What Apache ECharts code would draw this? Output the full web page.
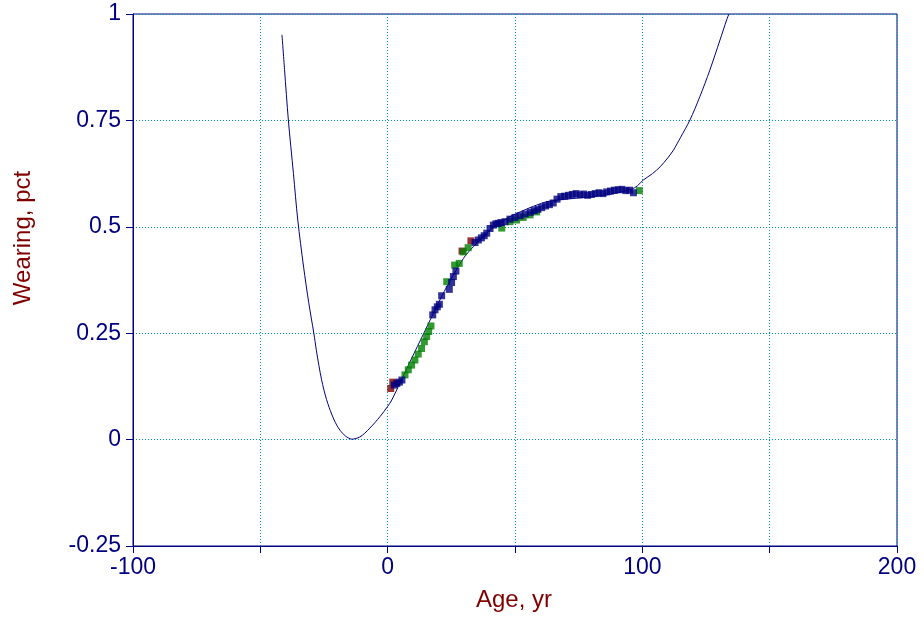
<!DOCTYPE html>
<html>
<head>
<meta charset="utf-8">
<script src="https://cdn.jsdelivr.net/npm/echarts@6/dist/echarts.min.js"></script>
<style>html,body{margin:0;padding:0;background:#fff}#c{width:924px;height:617px}</style>
</head>
<body>
<div id="c"></div>
<script>
// Fitted curve
var curvePoints = [[-41.5,0.951],[-40.5,0.87],[-39,0.751],[-37,0.625],[-35.3,0.516],[-33,0.405],[-31,0.322],[-29,0.25],[-28,0.21],[-27,0.174],[-26,0.142],[-25,0.116],[-24,0.094],[-23,0.076],[-22,0.06],[-21,0.046],[-20,0.034],[-18.7,0.022],[-16.5,0.008],[-14,0.001],[-11,0.006],[-9,0.015],[-7,0.027],[-5,0.040],[-3,0.054],[0,0.078],[1.6,0.093],[5,0.135],[9.1,0.187],[14.2,0.25],[20.5,0.328],[24,0.368],[27.7,0.406],[30.5,0.432],[33.6,0.453],[37,0.473],[40.2,0.492],[44,0.509],[48,0.524],[52,0.535],[55.9,0.545],[58.5,0.551],[62.4,0.559],[67,0.563],[72,0.566],[77,0.569],[82,0.572],[87,0.576],[92,0.582],[96,0.589],[98,0.596],[100.4,0.61],[104,0.625],[107,0.641],[110,0.662],[112.2,0.68],[115,0.71],[118.7,0.751],[122.6,0.806],[126.5,0.868],[130.5,0.939],[133.1,0.986],[134,1.0]];
// Observed points
var redPoints = [[1.2,0.12],[2.0,0.135],[29.2,0.443],[32.7,0.467]];
var greenPoints = [[6.8,0.152],[8.1,0.164],[9.4,0.175],[10.7,0.187],[12.0,0.201],[13.3,0.214],[14.4,0.230],[15.3,0.242],[16.1,0.254],[17.0,0.267],[23.2,0.371],[26.3,0.41],[28.1,0.414],[29.7,0.441],[31.6,0.451],[44.8,0.497],[48,0.512],[50.6,0.516],[53.2,0.522],[55.9,0.528],[58.5,0.535],[98.8,0.585]];
var navyPoints = [[2.6,0.128],[3.6,0.132],[4.6,0.135],[5.6,0.140],[17.7,0.293],[18.6,0.305],[19.5,0.312],[20.3,0.318],[21.2,0.338],[24.2,0.353],[25.1,0.369],[25.8,0.383],[26.8,0.396],[34.3,0.463],[35.6,0.469],[36.8,0.474],[37.9,0.479],[38.9,0.485],[40.2,0.496],[41.5,0.504],[42.5,0.507],[43.4,0.508],[44.5,0.510],[46.1,0.512],[48,0.518],[50,0.522],[52,0.526],[54,0.530],[56,0.534],[57.5,0.538],[59,0.541],[60.5,0.545],[62,0.549],[63.5,0.552],[65,0.556],[66.5,0.565],[68,0.571],[69.5,0.572],[71,0.574],[72.5,0.576],[74,0.578],[75.5,0.575],[77,0.577],[78.5,0.574],[80,0.576],[81.5,0.578],[83,0.580],[84.5,0.578],[86,0.582],[87.5,0.584],[89,0.586],[90.5,0.587],[92,0.588],[93.5,0.585],[95,0.586],[96.5,0.580]];
var xTitle = 'Age, yr';
var yTitle = 'Wearing, pct';

var navy = '#000080', grn = '#008000', red = '#800000', gridC = '#009a9a';
var font = "'Liberation Sans', Arial, sans-serif";
var chart = echarts.init(document.getElementById('c'));
chart.setOption({
  animation: false,
  grid: {left:133, right:27, top:14, bottom:71, show:true, borderColor:navy, borderWidth:1, backgroundColor:'transparent'},
  xAxis: {
    type:'value', min:-100, max:200, interval:50,
    axisLine:{show:true, onZero:false, lineStyle:{color:navy, width:1}},
    axisTick:{show:true, length:7, lineStyle:{color:navy}},
    axisLabel:{color:navy, fontSize:23, fontFamily:font, margin:10, formatter:function(v){return v%100===0?String(v):'';}},
    splitLine:{show:true, lineStyle:{color:gridC, type:[1,2], width:1}}
  },
  yAxis: {
    type:'value', min:-0.25, max:1, interval:0.25,
    axisLine:{show:true, onZero:false, lineStyle:{color:navy, width:1}},
    axisTick:{show:true, length:7, lineStyle:{color:navy}},
    axisLabel:{color:navy, fontSize:23, fontFamily:font, margin:12},
    splitLine:{show:true, lineStyle:{color:gridC, type:[1,2], width:1}}
  },
  graphic: [
    {type:'text', x:514, y:600, style:{text:xTitle, fill:red, font:'24px '+font, textAlign:'center', textVerticalAlign:'middle'}},
    {type:'text', x:23, y:238, rotation:Math.PI/2, style:{text:yTitle, fill:red, font:'24px '+font, textAlign:'center', textVerticalAlign:'middle'}}
  ],
  series: [
    {type:'line', data:curvePoints, showSymbol:false, smooth:0.3, clip:true, lineStyle:{color:navy, width:1}, z:2},
    {type:'scatter', data:redPoints, symbol:'rect', symbolSize:7, itemStyle:{color:red}, z:3},
    {type:'scatter', data:greenPoints, symbol:'rect', symbolSize:7, itemStyle:{color:grn}, z:4},
    {type:'scatter', data:navyPoints, symbol:'rect', symbolSize:7, itemStyle:{color:navy}, z:5}
  ]
});
</script>
</body>
</html>
